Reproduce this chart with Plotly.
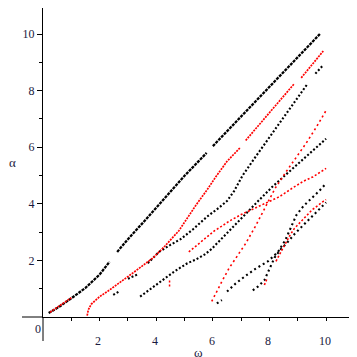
import plotly.graph_objects as go

# ---- data (omega, alpha) ----
b1_w = [0.2, 0.6, 1.0, 1.5, 2.0, 2.35, None, 2.62, 3.0, 3.5, 4.0, 4.5, 5.0, 5.5, 5.78, None, 6.0, 6.5, 7.0, 7.5, 8.0, 8.5, 9.0, 9.5, 9.78]
b1_a = [0.14, 0.38, 0.66, 1.03, 1.5, 1.95, None, 2.3, 2.75, 3.3, 3.86, 4.42, 4.99, 5.51, 5.8, None, 6.04, 6.56, 7.09, 7.61, 8.14, 8.66, 9.19, 9.71, 10.0]

r1_w = [0.25, 0.45, 0.65, 0.85, 1.0]
r1_a = [0.17, 0.3, 0.44, 0.57, 0.68]

r2_w = [1.56, 1.6, 1.7, 1.85, 2.0, 2.3, 2.7, 3.1, 3.5, 3.9, 4.3, 4.6, 4.8, 5.0, 5.4, 5.8, 6.1, 6.5, 6.98, None, 7.16, 7.6, 8.1, 8.5, 8.88, None, 9.12, 9.5, 9.9]
r2_a = [0.05, 0.25, 0.45, 0.6, 0.72, 0.92, 1.2, 1.5, 1.8, 2.1, 2.5, 2.85, 3.05, 3.35, 3.95, 4.5, 4.95, 5.5, 6.0, None, 6.24, 6.75, 7.35, 7.8, 8.25, None, 8.45, 8.9, 9.4]

b2_w = [2.48, 2.72, None, 3.0, 3.33, None, 3.7, 4.1, 4.5, 4.86, 5.3, 5.8, 6.2, 6.5, 6.75, 7.05, 7.5, 8.0, 8.5, 8.9, 9.35, None, 9.62, 9.9]
b2_a = [0.78, 0.92, None, 1.35, 1.5, None, 1.9, 2.3, 2.55, 2.75, 3.1, 3.55, 3.85, 4.1, 4.45, 5.0, 5.65, 6.35, 7.05, 7.6, 8.25, None, 8.6, 8.9]

b4_w = [3.43, 3.8, 4.2, 4.6, 4.86, 5.1, 5.4, 5.7, 5.95, 6.3, 6.7, 7.1, 7.6, 8.1, 8.6, 9.1, 9.55, 10.0]
b4_a = [0.72, 1.0, 1.3, 1.58, 1.75, 1.9, 2.03, 2.2, 2.4, 2.75, 3.15, 3.58, 4.1, 4.6, 5.05, 5.5, 5.9, 6.3]

r3_w = [5.15, 5.45, 5.77, 6.06, 6.3, 6.6, 7.0, 7.5, 8.0, 8.35, 8.8, 9.2, 9.53, 10.0]
r3_a = [2.3, 2.55, 2.8, 3.05, 3.2, 3.4, 3.62, 3.85, 4.1, 4.25, 4.55, 4.8, 4.95, 5.25]

r4_w = [5.96, 6.1, 6.32, 6.57, 6.85, 7.16, 7.5, 7.85, 8.2, 8.6, 8.95, 9.3, 9.65, 10.0]
r4_a = [0.55, 0.85, 1.26, 1.72, 2.15, 2.6, 3.2, 3.9, 4.55, 5.15, 5.65, 6.15, 6.7, 7.3]

b5_w = [6.14, 6.32, None, 6.5, 6.8, 7.15, 7.5, 7.95, 8.3, 8.55, 8.75, 8.95, 9.2, 9.5, 9.75, 10.0]
b5_a = [0.48, 0.6, None, 0.9, 1.18, 1.45, 1.7, 1.97, 2.3, 2.7, 3.15, 3.6, 3.92, 4.2, 4.45, 4.72]

b6_w = [7.41, 7.6, 7.82, 8.0, 8.18, 8.4, 8.6, 8.9, 9.25, 9.6, 10.0]
b6_a = [0.94, 1.08, 1.3, 1.7, 2.1, 2.4, 2.6, 2.95, 3.3, 3.68, 4.05]

r6_w = [7.82, 7.92, None, 8.23, 8.45, 8.7, 8.88, 9.2, 9.5, 9.89, 10.0]
r6_a = [1.13, 1.37, None, 1.97, 2.4, 2.85, 3.13, 3.45, 3.78, 4.08, 4.15]

r7_w = [4.47, 4.47, 4.47]
r7_a = [1.08, 1.22, 1.3]

x_ticks = [2, 4, 6, 8, 10]
x_tick_labels = ["2", "4", "6", "8", "10"]
x_minor = [1, 3, 5, 7, 9]
y_ticks = [2, 4, 6, 8, 10]
y_minor = [1, 3, 5, 7, 9]

BLACK = "#000000"
RED = "#ff0000"
TXT = "#1a1a40"

fig = go.Figure()

def add(w, a, color, width, dash):
    fig.add_trace(go.Scatter(x=w, y=a, mode="lines",
                             line=dict(color=color, width=width, dash=dash),
                             connectgaps=False, hoverinfo="skip"))

add(b1_w, b1_a, BLACK, 2.3, "3px,1px")
add(b2_w, b2_a, BLACK, 2.1, "2px,2px")
add(b4_w, b4_a, BLACK, 2.1, "2px,2px")
add(b5_w, b5_a, BLACK, 2.1, "2px,3px")
add(b6_w, b6_a, BLACK, 2.1, "2px,3px")
add(r1_w, r1_a, RED, 1.7, "2px,1px")
add(r2_w, r2_a, RED, 1.7, "2px,1px")
add(r3_w, r3_a, RED, 1.6, "2px,2px")
add(r4_w, r4_a, RED, 1.6, "2px,3px")
add(r6_w, r6_a, RED, 1.6, "2px,2px")
add(r7_w, r7_a, RED, 1.5, "2px,2px")

# page body adds an 8px offset, so the figure is 8px smaller and shifted
W = H = 349
ML, MR, MT, MB = 35, 4, 0, 40
pw, ph = W - ML - MR, H - MT - MB
xmax = 10.95
ymax = 10.92
bottom = H - MB

def xpaper(v):
    return v / xmax

font12 = dict(family="Liberation Serif", size=12, color=TXT)
font13 = dict(family="Liberation Serif", size=13, color=TXT)

label_y = -(333 - bottom) / ph

annotations = [
    dict(text="0", xref="paper", yref="paper", x=(29.7 - ML) / pw, y=-(321.3 - bottom) / ph,
         showarrow=False, font=font12, xanchor="center", yanchor="middle"),
    dict(text="ω", xref="paper", yref="paper", x=(190 - ML) / pw, y=-(344 - bottom) / ph,
         showarrow=False, font=font13, xanchor="center", yanchor="middle"),
    dict(text="α", xref="paper", yref="paper", x=(4.5 - ML) / pw, y=1 - (154 - MT) / ph,
         showarrow=False, font=font13, xanchor="center", yanchor="middle"),
]
for v, t in zip(x_ticks, x_tick_labels):
    annotations.append(dict(text=t, xref="paper", yref="paper", x=xpaper(v - 0.04), y=label_y,
                            showarrow=False, font=font12, xanchor="center", yanchor="middle"))

fig.update_layout(
    template="none",
    width=W, height=H,
    margin=dict(l=ML, r=MR, t=MT, b=MB, autoexpand=False),
    paper_bgcolor="white", plot_bgcolor="white",
    showlegend=False,
    xaxis=dict(range=[0, xmax], tickvals=x_ticks, ticks="outside", ticklen=3,
               tickcolor="black", tickwidth=1, showline=True, linecolor="black", linewidth=1,
               showgrid=False, zeroline=False, showticklabels=False, automargin=False,
               minor=dict(tickvals=x_minor, ticks="outside", ticklen=3, tickcolor="black")),
    yaxis=dict(range=[0, ymax], tickvals=y_ticks, ticks="outside", ticklen=5,
               tickcolor="black", tickwidth=1, showline=True, linecolor="black", linewidth=1,
               showgrid=False, zeroline=False, showticklabels=True, automargin=False,
               tickfont=font12,
               minor=dict(tickvals=y_minor, ticks="outside", ticklen=3, tickcolor="black")),
    shapes=[
        dict(type="line", xref="paper", yref="paper", x0=(14 - ML) / pw, x1=0, y0=0, y1=0,
             line=dict(color="black", width=1)),
        dict(type="line", xref="paper", yref="paper", x0=0, x1=0, y0=-(333 - bottom) / ph, y1=0,
             line=dict(color="black", width=1)),
    ],
    annotations=annotations,
)

fig.write_html("out.html", config={"staticPlot": True})
